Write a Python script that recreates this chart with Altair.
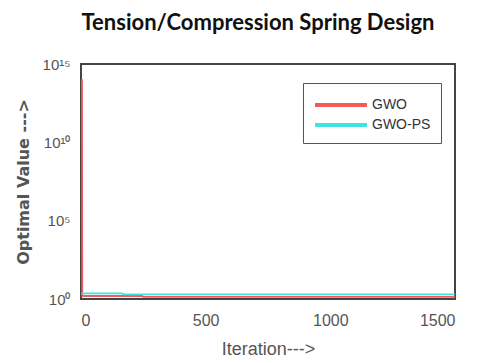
import altair as alt
import pandas as pd

# GWO series (iteration, optimal value)
gwo_iter = [4, 5, 8, 245, 250, 1500]
gwo_val = [1.07e14, 1.6, 1.55, 1.55, 1.35, 1.35]
# GWO-PS series
ps_iter = [1, 165, 170, 1500]
ps_val = [2.3, 2.3, 1.95, 1.95]

series_names = ["GWO", "GWO-PS"]
series_colors = ["#f45a5a", "#3fe3e3"]

y_ticks = [1, 1e5, 1e10, 1e15]
y_tick_labels = ["10⁰", "10⁵", "10¹⁰", "10¹⁵"]
x_ticks = [0, 500, 1000, 1500]

rows = []
for i, v in zip(gwo_iter, gwo_val):
    rows.append({"Iteration": i, "Value": v, "Algorithm": "GWO", "order": 0})
for i, v in zip(ps_iter, ps_val):
    rows.append({"Iteration": i, "Value": v, "Algorithm": "GWO-PS", "order": 1})
df = pd.DataFrame(rows)

label_expr = " : ".join(
    [f"datum.value < {t*1.5:g} ? '{l}'" for t, l in zip(y_ticks[:-1], y_tick_labels[:-1])]
    + [f"'{y_tick_labels[-1]}'"]
)

chart = alt.Chart(df).mark_line(strokeWidth=1.8, clip=True).encode(
    x=alt.X("Iteration:Q",
            scale=alt.Scale(domain=[0, 1500], nice=False),
            axis=alt.Axis(values=x_ticks, format="d", title="Iteration--->", grid=False,
                          tickSize=0, labelPadding=13, titlePadding=12,
                          labelFont="Liberation Sans", labelFontSize=16, labelColor="#555",
                          titleFont="Liberation Sans", titleFontSize=18, titleColor="#555",
                          titleFontWeight="normal", domain=False)),
    y=alt.Y("Value:Q",
            scale=alt.Scale(type="log", domain=[1, 1e15], nice=False),
            axis=alt.Axis(values=y_ticks, labelExpr=label_expr, title="Optimal Value --->",
                          grid=False, tickSize=0, labelPadding=11, titlePadding=11,
                          labelFont="Liberation Sans", labelFontSize=15, labelColor="#555",
                          titleFont="DejaVu Sans", titleFontSize=16, titleColor="#555",
                          titleFontWeight="bold", domain=False)),
    color=alt.Color("Algorithm:N",
                    scale=alt.Scale(domain=series_names, range=series_colors),
                    legend=alt.Legend(title=None, orient="none", legendX=222, legendY=19,
                                      symbolType="M-1,0L4.2,0", symbolSize=400,
                                      symbolStrokeWidth=4, symbolFillColor="transparent",
                                      labelOffset=35,
                                      labelFont="Liberation Sans", labelFontSize=14,
                                      labelColor="#333", strokeColor="#555", padding=10,
                                      rowPadding=0, labelLimit=200,
                                      fillColor="white")),
    order=alt.Order("order:Q"),
    detail="Algorithm:N",
).properties(
    width=374, height=235,
    title=alt.TitleParams("Tension/Compression Spring Design", font="Lato", fontSize=22,
                          fontWeight="bold", color="#111", anchor="middle", dx=-10,
                          offset=22),
    autosize=alt.AutoSizeParams(type="none"),
    padding={"left": 73, "top": 56, "right": 16, "bottom": 64},
).configure_view(stroke="#444", strokeWidth=2)

chart.save("out.html", embed_options={"renderer": "svg", "actions": False})
